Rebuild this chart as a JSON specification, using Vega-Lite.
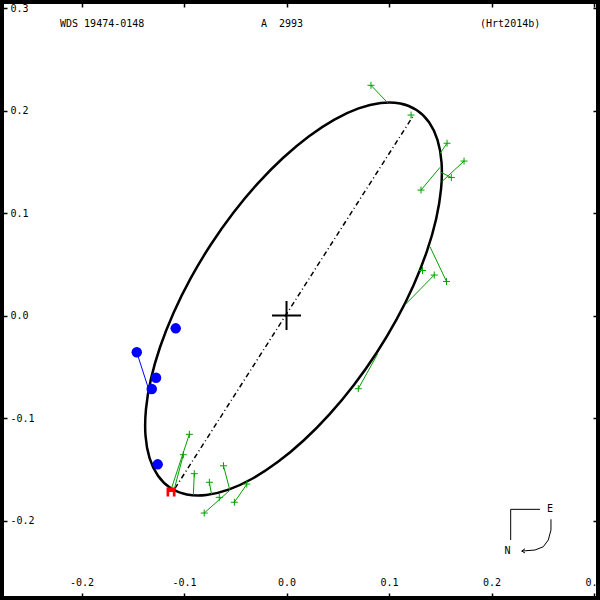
{
  "$schema": "https://vega.github.io/schema/vega-lite/v6.json",
  "width": 596,
  "height": 596,
  "padding": 2,
  "autosize": {"type": "none"},
  "background": "white",
  "config": {
    "view": {"stroke": "black", "strokeWidth": 4},
    "axis": {"grid": false, "domain": false, "labelFont": "DejaVu Sans Mono", "labelFontSize": 10, "labelColor": "black", "tickColor": "black", "tickWidth": 1.5, "tickSize": -5, "labelFlush": false, "labelOverlap": false, "labelBound": false, "title": null},
    "text": {"font": "DejaVu Sans Mono", "fontSize": 10, "color": "black"}
  },
  "datasets": {
    "orbit": [
      {"i": 0, "x": 0.12684, "y": 0.20048},
      {"i": 1, "x": 0.13907, "y": 0.18853},
      {"i": 2, "x": 0.14728, "y": 0.17134},
      {"i": 3, "x": 0.15124, "y": 0.14942},
      {"i": 4, "x": 0.15079, "y": 0.12347},
      {"i": 5, "x": 0.14598, "y": 0.09426},
      {"i": 6, "x": 0.13694, "y": 0.06266},
      {"i": 7, "x": 0.12394, "y": 0.02965},
      {"i": 8, "x": 0.10738, "y": -0.00378},
      {"i": 9, "x": 0.08778, "y": -0.03659},
      {"i": 10, "x": 0.06572, "y": -0.06780},
      {"i": 11, "x": 0.04186, "y": -0.09647},
      {"i": 12, "x": 0.01692, "y": -0.12172},
      {"i": 13, "x": -0.00830, "y": -0.14278},
      {"i": 14, "x": -0.03307, "y": -0.15901},
      {"i": 15, "x": -0.05662, "y": -0.16992},
      {"i": 16, "x": -0.07826, "y": -0.17518},
      {"i": 17, "x": -0.09731, "y": -0.17463},
      {"i": 18, "x": -0.11318, "y": -0.16828},
      {"i": 19, "x": -0.12541, "y": -0.15633},
      {"i": 20, "x": -0.13362, "y": -0.13914},
      {"i": 21, "x": -0.13758, "y": -0.11722},
      {"i": 22, "x": -0.13713, "y": -0.09127},
      {"i": 23, "x": -0.13232, "y": -0.06206},
      {"i": 24, "x": -0.12328, "y": -0.03046},
      {"i": 25, "x": -0.11028, "y": 0.00255},
      {"i": 26, "x": -0.09372, "y": 0.03598},
      {"i": 27, "x": -0.07412, "y": 0.06879},
      {"i": 28, "x": -0.05206, "y": 0.10000},
      {"i": 29, "x": -0.02820, "y": 0.12867},
      {"i": 30, "x": -0.00326, "y": 0.15392},
      {"i": 31, "x": 0.02196, "y": 0.17498},
      {"i": 32, "x": 0.04673, "y": 0.19121},
      {"i": 33, "x": 0.07028, "y": 0.20212},
      {"i": 34, "x": 0.09192, "y": 0.20738},
      {"i": 35, "x": 0.11097, "y": 0.20683}
    ],
    "nodes": [
      {"x": -0.1088, "y": -0.1686},
      {"x": 0.1231, "y": 0.1940}
    ],
    "resid": [
      {"method": "micrometry", "x": 0.0824, "y": 0.2246, "x2": 0.0987, "y2": 0.2076},
      {"method": "micrometry", "x": 0.1566, "y": 0.1681, "x2": 0.1498, "y2": 0.1582},
      {"method": "micrometry", "x": 0.1732, "y": 0.1507, "x2": 0.1514, "y2": 0.1305},
      {"method": "micrometry", "x": 0.1608, "y": 0.1346, "x2": 0.1502, "y2": 0.1400},
      {"method": "micrometry", "x": 0.1312, "y": 0.1224, "x2": 0.1498, "y2": 0.1446},
      {"method": "micrometry", "x": 0.1441, "y": 0.0395, "x2": 0.1158, "y2": 0.0107},
      {"method": "micrometry", "x": 0.1561, "y": 0.0332, "x2": 0.1400, "y2": 0.0671},
      {"method": "micrometry", "x": 0.0700, "y": -0.0714, "x2": 0.0888, "y2": -0.0376},
      {"method": "micrometry", "x": -0.0948, "y": -0.1159, "x2": -0.1120, "y2": -0.1678},
      {"method": "micrometry", "x": -0.1007, "y": -0.1358, "x2": -0.1093, "y2": -0.1686},
      {"method": "micrometry", "x": -0.0900, "y": -0.1543, "x2": -0.0909, "y2": -0.1751},
      {"method": "micrometry", "x": -0.0753, "y": -0.1627, "x2": -0.0732, "y2": -0.1741},
      {"method": "micrometry", "x": -0.0615, "y": -0.1466, "x2": -0.0554, "y2": -0.1699},
      {"method": "micrometry", "x": -0.0803, "y": -0.1927, "x2": -0.0561, "y2": -0.1712},
      {"method": "micrometry", "x": -0.0509, "y": -0.1822, "x2": -0.0388, "y2": -0.1647},
      {"method": "speckle", "x": -0.1461, "y": -0.0359, "x2": -0.1348, "y2": -0.0710}
    ],
    "obs": [
      {"method": "micrometry", "x": 0.0824, "y": 0.2246},
      {"method": "micrometry", "x": 0.1215, "y": 0.1956},
      {"method": "micrometry", "x": 0.1566, "y": 0.1681},
      {"method": "micrometry", "x": 0.1732, "y": 0.1507},
      {"method": "micrometry", "x": 0.1608, "y": 0.1346},
      {"method": "micrometry", "x": 0.1312, "y": 0.1224},
      {"method": "micrometry", "x": 0.1327, "y": 0.0439},
      {"method": "micrometry", "x": 0.1441, "y": 0.0395},
      {"method": "micrometry", "x": 0.1561, "y": 0.0332},
      {"method": "micrometry", "x": 0.0700, "y": -0.0714},
      {"method": "micrometry", "x": -0.0948, "y": -0.1159},
      {"method": "micrometry", "x": -0.1007, "y": -0.1358},
      {"method": "micrometry", "x": -0.0900, "y": -0.1543},
      {"method": "micrometry", "x": -0.0753, "y": -0.1627},
      {"method": "micrometry", "x": -0.0615, "y": -0.1466},
      {"method": "micrometry", "x": -0.0803, "y": -0.1927},
      {"method": "micrometry", "x": -0.0656, "y": -0.1774},
      {"method": "micrometry", "x": -0.0509, "y": -0.1822},
      {"method": "micrometry", "x": -0.0388, "y": -0.1644},
      {"method": "speckle", "x": -0.1081, "y": -0.0125},
      {"method": "speckle", "x": -0.1461, "y": -0.0359},
      {"method": "speckle", "x": -0.1273, "y": -0.0607},
      {"method": "speckle", "x": -0.1315, "y": -0.0717},
      {"method": "speckle", "x": -0.1257, "y": -0.1452},
      {"method": "hipparcos", "x": -0.1127, "y": -0.1722}
    ],
    "primary": [{"x": 0, "y": 0}],
    "header": [
      {"x": -0.2210, "y": 0.2844, "text": "WDS 19474-0148"},
      {"x": -0.0249, "y": 0.2844, "text": "A\u00a0\u00a02993"},
      {"x": 0.1888, "y": 0.2844, "text": "(Hrt2014b)"}
    ],
    "compass": [
      {"seg": "L", "i": 1, "x": 0.2473, "y": -0.1891},
      {"seg": "L", "i": 2, "x": 0.2187, "y": -0.1891},
      {"seg": "L", "i": 3, "x": 0.2187, "y": -0.2190},
      {"seg": "arc", "i": 1, "x": 0.2580, "y": -0.1988},
      {"seg": "arc", "i": 2, "x": 0.2580, "y": -0.2093},
      {"seg": "arc", "i": 3, "x": 0.2554, "y": -0.2190},
      {"seg": "arc", "i": 4, "x": 0.2505, "y": -0.2256},
      {"seg": "arc", "i": 5, "x": 0.2424, "y": -0.2288},
      {"seg": "arc", "i": 6, "x": 0.2295, "y": -0.2298},
      {"seg": "head", "i": 1, "x": 0.2327, "y": -0.2275},
      {"seg": "head", "i": 2, "x": 0.2295, "y": -0.2298},
      {"seg": "head", "i": 3, "x": 0.2327, "y": -0.2317}
    ],
    "compassText": [
      {"x": 0.2571, "y": -0.1891, "text": "E"},
      {"x": 0.2156, "y": -0.2302, "text": "N"}
    ]
  },
  "encoding": {
    "x": {"field": "x", "type": "quantitative", "scale": {"domain": [-0.2776, 0.3039], "nice": false, "zero": false}, "axis": null},
    "y": {"field": "y", "type": "quantitative", "scale": {"domain": [-0.2756, 0.3059], "nice": false, "zero": false}, "axis": null}
  },
  "layer": [
    {
      "data": {"name": "orbit"},
      "mark": {"type": "line", "color": "black", "strokeWidth": 2.5, "interpolate": "cardinal-closed"},
      "encoding": {
        "x": {"field": "x", "type": "quantitative", "scale": {"domain": [-0.2776, 0.3039], "nice": false, "zero": false},
              "axis": {"orient": "bottom", "values": [-0.2, -0.1, 0, 0.1, 0.2, 0.3], "labelExpr": "datum.value < 0 ? '-' + format(-datum.value, '.1f') : format(datum.value, '.1f')", "labelBaseline": "middle", "labelAlign": "center", "labelPadding": -11}},
        "y": {"field": "y", "type": "quantitative", "scale": {"domain": [-0.2756, 0.3059], "nice": false, "zero": false},
              "axis": {"orient": "left", "values": [-0.2, -0.1, 0, 0.1, 0.2, 0.3], "labelExpr": "datum.value < 0 ? '-' + format(-datum.value, '.1f') : format(datum.value, '.1f')", "labelBaseline": "middle", "labelAlign": "left", "labelPadding": -3}},
        "order": {"field": "i", "type": "quantitative"}
      }
    },
    {
      "data": {"name": "nodes"},
      "mark": {"type": "line", "color": "black", "strokeWidth": 1.5, "strokeDash": [5, 3, 1, 3]},
      "encoding": {
        "x": {"field": "x", "type": "quantitative", "scale": {"domain": [-0.2776, 0.3039], "nice": false, "zero": false},
              "axis": {"orient": "top", "values": [-0.2, -0.1, 0, 0.1, 0.2, 0.3], "labels": false}},
        "y": {"field": "y", "type": "quantitative", "scale": {"domain": [-0.2756, 0.3059], "nice": false, "zero": false},
              "axis": {"orient": "right", "values": [-0.2, -0.1, 0, 0.1, 0.2, 0.3], "labels": false}}
      }
    },
    {
      "data": {"name": "resid"},
      "mark": {"type": "rule", "strokeWidth": 1},
      "encoding": {
        "x2": {"field": "x2"},
        "y2": {"field": "y2"},
        "color": {"field": "method", "type": "nominal", "scale": {"domain": ["micrometry", "speckle"], "range": ["#00a000", "#0000ff"]}, "legend": null}
      }
    },
    {
      "data": {"name": "obs"},
      "transform": [{"filter": "datum.method == 'micrometry'"}],
      "mark": {"type": "point", "shape": "M-1,0L1,0M0,-1L0,1", "size": 49, "strokeWidth": 1, "color": "#00a000", "filled": false, "opacity": 1}
    },
    {
      "data": {"name": "obs"},
      "transform": [{"filter": "datum.method == 'speckle'"}],
      "mark": {"type": "point", "shape": "circle", "size": 110, "filled": true, "color": "#0000ff", "opacity": 1}
    },
    {
      "data": {"name": "obs"},
      "transform": [{"filter": "datum.method == 'hipparcos'"}],
      "mark": {"type": "point", "shape": "M-1,-1H1V1H0.4V0H-0.4V1H-1Z", "size": 81, "filled": true, "color": "#ff0000", "opacity": 1}
    },
    {
      "data": {"name": "primary"},
      "mark": {"type": "point", "shape": "M-1,0L1,0M0,-1L0,1", "size": 841, "strokeWidth": 2, "color": "black", "filled": false, "opacity": 1}
    },
    {
      "data": {"name": "header"},
      "mark": {"type": "text", "align": "left", "baseline": "middle", "font": "DejaVu Sans Mono", "fontSize": 10, "color": "black"},
      "encoding": {"text": {"field": "text"}}
    },
    {
      "data": {"name": "compass"},
      "mark": {"type": "line", "color": "black", "strokeWidth": 1},
      "encoding": {"detail": {"field": "seg"}, "order": {"field": "i", "type": "quantitative"}}
    },
    {
      "data": {"name": "compassText"},
      "mark": {"type": "text", "align": "center", "baseline": "middle", "font": "DejaVu Sans Mono", "fontSize": 10, "color": "black"},
      "encoding": {"text": {"field": "text"}}
    }
  ],
  "resolve": {"axis": {"x": "independent", "y": "independent"}}
}
